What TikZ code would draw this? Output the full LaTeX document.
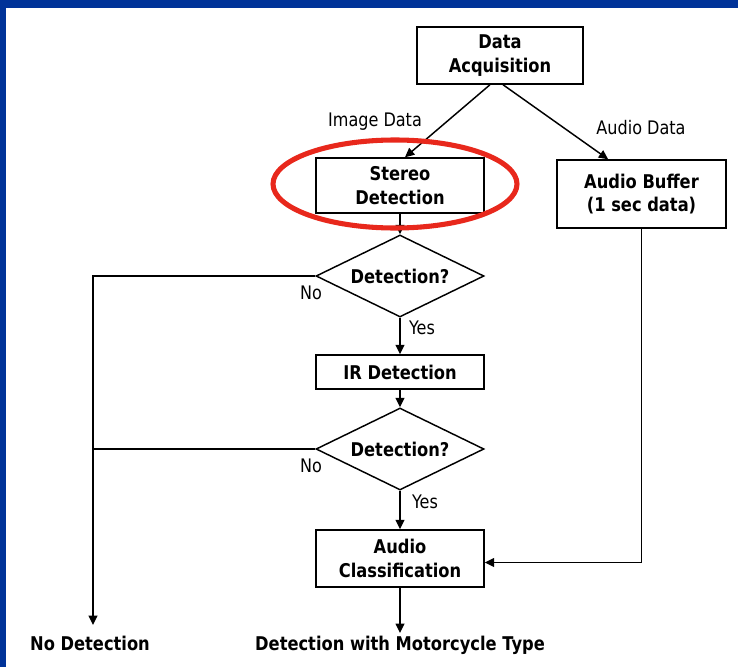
\documentclass[tikz,border=0pt]{standalone}
\usepackage{fontspec}
\setmainfont[FakeStretch=0.86]{DejaVu Sans}
\usetikzlibrary{arrows.meta,shapes.geometric}
\definecolor{frameblue}{RGB}{0,51,153}
\definecolor{hlred}{RGB}{232,40,28}
\tikzset{
  box/.style={draw, line width=1.1pt, fill=white, align=center, inner sep=0pt,
    font=\fontsize{14.2pt}{17.5pt}\selectfont\bfseries},
  dia/.style={draw, diamond, line width=1.1pt, fill=white, inner sep=0pt, aspect=2.05,
    font=\fontsize{14.2pt}{17.5pt}\selectfont\bfseries},
  lbl/.style={font=\fontsize{14pt}{16pt}\selectfont, inner sep=0pt},
  endtxt/.style={font=\fontsize{14.2pt}{16pt}\selectfont\bfseries, inner sep=0pt},
  conn/.style={line width=1.1pt, -{Triangle[length=7pt,width=6.5pt]}},
  plain/.style={line width=1.1pt}
}
\begin{document}
\begin{tikzpicture}[x=0.75pt,y=-0.75pt]
\useasboundingbox (0,0) rectangle (738,667);
\fill[frameblue] (0,0) rectangle (738,667);
\fill[white] (6,8) rectangle (738,667);

\node[box, minimum width=124.5pt, minimum height=42.75pt] (da) at (500,55.5) {Data\\Acquisition};
\node[box, minimum width=126pt, minimum height=41.25pt] (sd) at (400,185.5) {Stereo\\Detection};
\node[box, minimum width=126.75pt, minimum height=51pt] (ab) at (641.5,194) {Audio Buffer\\(1 sec data)};
\node[dia, minimum width=126pt, minimum height=61.5pt] (d1) at (400,276) {Detection?};
\node[box, minimum width=126pt, minimum height=25.5pt] (ir) at (400,372) {IR Detection};
\node[dia, minimum width=126pt, minimum height=61.5pt] (d2) at (400,449) {Detection?};
\node[box, minimum width=126pt, minimum height=42.75pt] (ac) at (400,558.5) {Audio\\Classification};
\node[endtxt] (nd) at (90,643) {No Detection};
\node[endtxt] (dm) at (400,645) {Detection with Motorcycle Type};

\coordinate (ndtop) at (93,625);
\coordinate (dmtop) at (400,633);

\draw[conn] ([xshift=-7.5pt]da.south) -- ([xshift=3.75pt]sd.north);
\draw[conn] ([xshift=2.25pt]da.south) -- ([xshift=-25pt]ab.north);
\draw[conn] (sd.south) -- (d1.north);
\draw[conn] (d1.south) -- (ir.north);
\draw[conn] (ir.south) -- (d2.north);
\draw[conn] (d2.south) -- (ac.north);
\draw[conn] (ac.south) -- (dmtop);
\draw[conn] (ab.south) |- ([yshift=-3pt]ac.east);
\draw[conn] (d1.west) -| (ndtop);
\draw[plain] (d2.west) -- (d2.west -| ndtop);

\node[lbl] (l1) at (375,122) {Image Data};
\node[lbl] (l2) at (641,128) {Audio Data};
\node[lbl] (l3) at (311,293) {No};
\node[lbl] (l4) at (422,328) {Yes};
\node[lbl] (l5) at (311,466) {No};
\node[lbl] (l6) at (425,502) {Yes};

\draw[hlred, line width=3.8pt] (395,184) ellipse [x radius=91.5pt, y radius=33pt];
\end{tikzpicture}
\end{document}
